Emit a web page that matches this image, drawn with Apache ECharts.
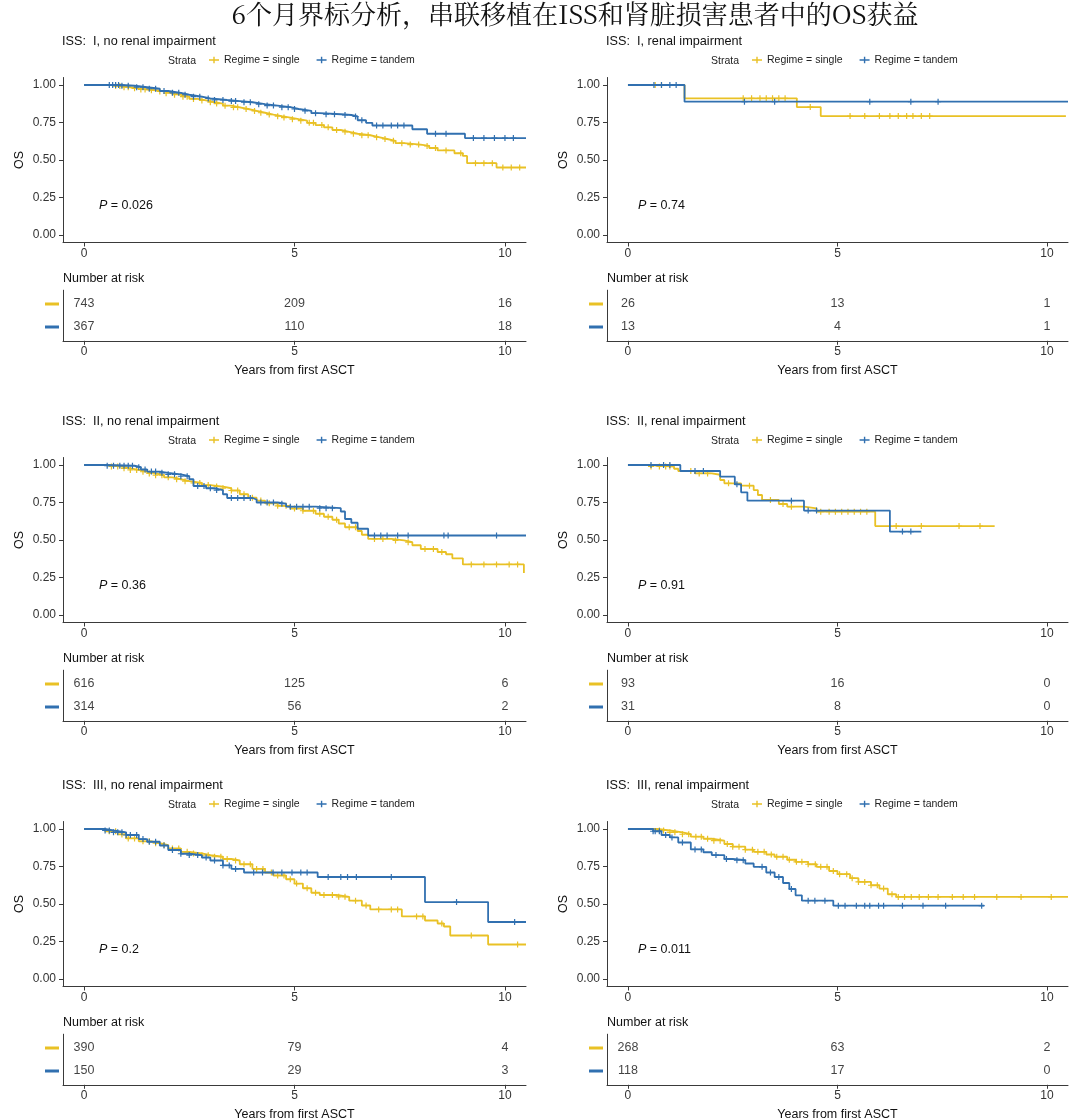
<!DOCTYPE html>
<html><head><meta charset="utf-8">
<script src="https://cdn.jsdelivr.net/npm/echarts@6/dist/echarts.min.js"></script>
<style>html,body{margin:0;padding:0;background:#fff}#c{width:1080px;height:1120px}</style>
</head><body><div id="c"></div>
<script>
// ---------- DATA ----------
const mainTitle = '6个月界标分析，串联移植在ISS和肾脏损害患者中的OS获益';
const panelTitles = [
  'ISS:  I, no renal impairment', 'ISS:  I, renal impairment',
  'ISS:  II, no renal impairment', 'ISS:  II, renal impairment',
  'ISS:  III, no renal impairment', 'ISS:  III, renal impairment'
];
const pValues = ['0.026', '0.74', '0.36', '0.91', '0.2', '0.011'];
const strataNames = ['Regime = single', 'Regime = tandem'];
const xTicks = [0, 5, 10];
const yTicks = [0, 0.25, 0.5, 0.75, 1];
const xTitle = 'Years from first ASCT';
const yTitle = 'OS';

// KM step curves [time, survival]
const km1_single = [[0,1],[0.7,0.993],[0.9,0.985],[1.1,0.978],[1.3,0.97],[1.5,0.965],[1.7,0.957],[1.9,0.945],[2.1,0.935],[2.3,0.922],[2.5,0.907],[2.7,0.897],[2.9,0.885],[3.1,0.876],[3.3,0.862],[3.5,0.851],[3.7,0.84],[3.9,0.827],[4.1,0.815],[4.3,0.803],[4.5,0.792],[4.7,0.783],[4.9,0.772],[5.1,0.762],[5.3,0.748],[5.5,0.733],[5.7,0.718],[5.9,0.7],[6.1,0.688],[6.3,0.675],[6.5,0.665],[6.8,0.652],[7.0,0.64],[7.2,0.628],[7.4,0.612],[7.6,0.603],[8.0,0.594],[8.2,0.58],[8.4,0.564],[8.8,0.545],[9.0,0.527],[9.1,0.479],[9.8,0.45],[10.5,0.45]];
const km1_tandem = [[0,1],[0.9,0.995],[1.2,0.985],[1.5,0.975],[1.8,0.96],[2.0,0.948],[2.3,0.935],[2.5,0.922],[2.8,0.91],[3.0,0.9],[3.4,0.893],[3.7,0.885],[4.0,0.872],[4.3,0.863],[4.6,0.852],[4.9,0.84],[5.1,0.828],[5.4,0.812],[5.6,0.805],[6.1,0.8],[6.35,0.79],[6.5,0.765],[6.7,0.748],[6.85,0.73],[7.8,0.705],[8.15,0.675],[9.05,0.646],[10.5,0.646]];
const km2_single = [[0,1],[1.35,0.911],[4.03,0.853],[4.6,0.793],[10.45,0.793]];
const km2_tandem = [[0,1],[1.35,0.889],[10.5,0.889]];
const km3_single = [[0,1],[0.6,0.99],[0.9,0.978],[1.1,0.967],[1.3,0.955],[1.5,0.944],[1.7,0.932],[1.9,0.918],[2.1,0.905],[2.3,0.892],[2.5,0.88],[2.8,0.866],[3.0,0.856],[3.3,0.845],[3.5,0.83],[3.7,0.805],[3.9,0.782],[4.1,0.763],[4.3,0.745],[4.6,0.728],[4.9,0.71],[5.2,0.695],[5.5,0.675],[5.7,0.655],[5.9,0.635],[6.05,0.61],[6.2,0.585],[6.5,0.56],[6.6,0.535],[6.75,0.507],[7.3,0.497],[7.6,0.485],[7.8,0.465],[8.0,0.44],[8.4,0.42],[8.6,0.405],[8.75,0.378],[9.0,0.337],[10.45,0.28]];
const km3_tandem = [[0,1],[0.5,0.995],[1.2,0.985],[1.35,0.97],[1.5,0.956],[1.8,0.948],[2.0,0.938],[2.3,0.925],[2.5,0.905],[2.6,0.86],[2.9,0.845],[3.1,0.833],[3.3,0.805],[3.4,0.78],[4.0,0.77],[4.1,0.75],[4.6,0.742],[4.8,0.722],[5.5,0.712],[6.1,0.69],[6.2,0.64],[6.35,0.615],[6.5,0.575],[6.75,0.53],[10.5,0.53]];
const km4_single = [[0,1],[0.5,0.99],[1.1,0.975],[1.2,0.96],[1.6,0.944],[2.0,0.935],[2.2,0.9],[2.3,0.878],[2.7,0.862],[3.0,0.833],[3.1,0.8],[3.2,0.767],[3.6,0.74],[3.8,0.722],[4.2,0.711],[4.5,0.689],[5.9,0.593],[8.75,0.593]];
const km4_tandem = [[0,1],[1.25,0.96],[2.2,0.922],[2.55,0.871],[2.7,0.818],[2.85,0.762],[4.2,0.696],[6.25,0.556],[7.0,0.556]];
const km5_single = [[0,1],[0.5,0.985],[0.8,0.964],[1.0,0.937],[1.3,0.918],[1.6,0.905],[1.8,0.893],[2.0,0.87],[2.3,0.848],[2.5,0.837],[2.8,0.825],[3.0,0.815],[3.3,0.8],[3.5,0.79],[3.7,0.765],[4.0,0.734],[4.3,0.71],[4.5,0.69],[4.8,0.665],[5.0,0.636],[5.2,0.605],[5.4,0.575],[5.6,0.56],[6.0,0.548],[6.3,0.522],[6.6,0.49],[6.8,0.464],[7.55,0.417],[8.1,0.39],[8.4,0.37],[8.55,0.35],[8.7,0.29],[9.6,0.23],[10.5,0.23]];
const km5_tandem = [[0,1],[0.5,0.99],[0.7,0.978],[1.0,0.96],[1.3,0.933],[1.5,0.915],[1.8,0.89],[2.0,0.86],[2.3,0.835],[2.5,0.826],[2.8,0.81],[3.0,0.79],[3.3,0.757],[3.5,0.734],[3.8,0.71],[5.55,0.68],[8.1,0.513],[9.6,0.38],[10.5,0.38]];
const km6_single = [[0,1],[0.7,0.99],[1.0,0.978],[1.3,0.965],[1.5,0.949],[1.8,0.935],[2.0,0.922],[2.3,0.9],[2.5,0.882],[2.8,0.862],[3.0,0.848],[3.3,0.83],[3.5,0.815],[3.8,0.795],[4.0,0.781],[4.3,0.765],[4.5,0.748],[4.8,0.72],[5.0,0.699],[5.3,0.672],[5.5,0.647],[5.8,0.625],[6.0,0.603],[6.2,0.565],[6.4,0.547],[10.5,0.547]];
const km6_tandem = [[0,1],[0.6,0.985],[0.8,0.96],[1.0,0.944],[1.2,0.91],[1.5,0.864],[1.8,0.845],[2.0,0.826],[2.3,0.8],[2.5,0.792],[2.8,0.77],[3.0,0.748],[3.3,0.71],[3.5,0.68],[3.7,0.64],[3.85,0.6],[4.0,0.558],[4.15,0.522],[4.9,0.489],[8.5,0.489]];

// censoring times
const cen1_single = [0.75,0.85,0.95,1.05,1.2,1.35,1.45,1.6,1.8,1.95,2.15,2.35,2.45,2.6,2.8,3.0,3.15,3.35,3.55,3.65,3.85,4.05,4.2,4.4,4.6,4.75,4.95,5.15,5.35,5.45,5.65,5.8,6.0,6.2,6.4,6.6,6.75,6.95,7.15,7.35,7.55,7.75,7.95,8.15,8.35,8.6,8.95,9.3,9.5,9.7,9.95,10.15,10.35];
const cen1_tandem = [0.6,0.68,0.75,0.82,0.9,1.05,1.25,1.4,1.55,1.7,1.9,2.1,2.25,2.4,2.6,2.75,2.95,3.1,3.3,3.5,3.6,3.8,3.95,4.15,4.35,4.5,4.7,4.85,5.0,5.25,5.5,5.75,5.95,6.2,6.45,6.6,6.95,7.1,7.3,7.45,7.6,8.35,8.6,9.25,9.5,9.75,10.0,10.2];
const cen2_single = [0.65,0.8,2.75,2.95,3.15,3.3,3.45,3.6,3.75,4.35,5.3,5.65,6.0,6.25,6.45,6.65,6.8,7.0,7.2];
const cen2_tandem = [0.62,0.8,1.0,1.15,2.78,3.5,5.77,6.75,7.4];
const cen3_single = [0.65,0.8,0.95,1.1,1.25,1.4,1.55,1.7,1.85,2.0,2.2,2.4,2.6,2.75,2.95,3.15,3.3,3.5,3.65,3.8,4.0,4.2,4.4,4.6,4.8,5.0,5.2,5.45,5.6,5.8,6.0,6.3,6.45,6.9,7.1,7.4,7.7,8.1,8.3,8.5,9.2,9.5,9.8,10.1,10.3];
const cen3_tandem = [0.55,0.7,0.85,0.95,1.05,1.15,1.3,1.45,1.6,1.7,1.85,2.0,2.15,2.3,2.45,2.7,2.85,3.0,3.15,3.5,3.65,3.8,3.95,4.2,4.35,4.5,4.7,4.9,5.05,5.2,5.35,5.6,5.75,5.9,6.9,7.05,7.2,7.45,7.7,8.55,8.65,9.8];
const cen4_single = [0.55,0.75,0.9,1.0,1.5,1.7,1.9,2.4,2.9,3.4,3.7,3.9,4.6,4.8,4.95,5.1,5.25,5.4,5.55,5.7,6.4,7.0,7.9,8.4];
const cen4_tandem = [0.55,0.85,1.0,1.6,1.8,2.6,3.9,4.3,4.5,6.55,6.75];
const cen5_single = [0.6,0.75,0.9,1.05,1.2,1.4,1.55,1.7,1.9,2.1,2.25,2.45,2.6,2.8,2.95,3.1,3.25,3.4,3.6,3.8,3.95,4.1,4.25,4.45,4.6,4.75,4.9,5.05,5.3,5.5,5.7,5.9,6.05,6.2,6.45,6.7,7.0,7.3,7.45,7.9,8.05,8.5,9.2,10.3];
const cen5_tandem = [0.5,0.6,0.7,0.8,0.9,1.0,1.1,1.25,1.4,1.55,1.7,1.9,2.1,2.3,2.5,2.7,2.9,3.1,3.3,3.45,3.6,4.03,4.24,4.49,4.7,4.94,5.15,5.3,5.8,6.1,6.26,6.47,7.3,8.85,10.23];
const cen6_single = [0.75,0.85,1.0,1.12,1.3,1.45,1.62,1.75,1.9,2.05,2.2,2.37,2.5,2.65,2.8,2.97,3.1,3.25,3.42,3.55,3.7,3.85,4.02,4.15,4.3,4.47,4.6,4.75,4.9,5.05,5.22,5.35,5.5,5.65,5.8,5.95,6.1,6.3,6.45,6.6,6.76,6.95,7.17,7.4,7.74,8.0,8.27,8.8,9.38,10.1];
const cen6_tandem = [0.6,0.65,0.75,0.9,1.05,1.3,1.6,1.75,2.1,2.35,2.6,2.75,3.2,3.4,3.6,3.9,4.3,4.46,4.7,5.02,5.18,5.45,5.65,5.77,5.98,6.1,6.55,7.04,7.58,8.44];

// number at risk at xTicks
const risk1_single = [743, 209, 16], risk1_tandem = [367, 110, 18];
const risk2_single = [26, 13, 1],    risk2_tandem = [13, 4, 1];
const risk3_single = [616, 125, 6],  risk3_tandem = [314, 56, 2];
const risk4_single = [93, 16, 0],    risk4_tandem = [31, 8, 0];
const risk5_single = [390, 79, 4],   risk5_tandem = [150, 29, 3];
const risk6_single = [268, 63, 2],   risk6_tandem = [118, 17, 0];

// ---------- BUILD ----------
const curves = [[km1_single,km1_tandem],[km2_single,km2_tandem],[km3_single,km3_tandem],[km4_single,km4_tandem],[km5_single,km5_tandem],[km6_single,km6_tandem]];
const censors = [[cen1_single,cen1_tandem],[cen2_single,cen2_tandem],[cen3_single,cen3_tandem],[cen4_single,cen4_tandem],[cen5_single,cen5_tandem],[cen6_single,cen6_tandem]];
const risks = [[risk1_single,risk1_tandem],[risk2_single,risk2_tandem],[risk3_single,risk3_tandem],[risk4_single,risk4_tandem],[risk5_single,risk5_tandem],[risk6_single,risk6_tandem]];

const COLORS = ['#E9C125', '#3170B0'];
const FF = '"Liberation Sans", Arial, Helvetica, sans-serif';
const AX = '#3a3a3a', LAB = '#333';
const COL_LEFT = [63, 607], COL_W = [463, 461], ROW_OFF = [0, 380, 744];
const LEG_LEFT = [209, 752], STRATA_X = [168, 711], P_X = [99, 638];
const PLUS = 'path://M2.4,0h1.2v6h-1.2z M0,2.4h6v1.2h-6z';
const LEG_ICON = 'path://M0,3h10v1.4h-10z M4.3,0.5h1.4v6.4h-1.4z';

function survAt(curve, t) {
  let s = curve[0][1];
  for (const p of curve) { if (p[0] <= t) s = p[1]; else break; }
  return s;
}

const grid = [], xAxis = [], yAxis = [], series = [], legend = [], graphic = [];
graphic.push({type:'text', style:{text: mainTitle, x: 575, y: 14, align:'center', verticalAlign:'middle',
  font: '26px "Noto Serif CJK SC", "Noto Sans CJK SC", serif', fill:'#111'}});

for (let i = 0; i < 6; i++) {
  const col = i % 2, row = Math.floor(i / 2), off = ROW_OFF[row];
  grid.push({left: COL_LEFT[col], top: 77.5 + off, width: COL_W[col], height: 165, outerBoundsMode: 'none'});
  grid.push({left: COL_LEFT[col], top: 290.2 + off, width: COL_W[col], height: 50.6, outerBoundsMode: 'none'});
  const xBase = {type:'value', min:-0.5, max:10.5,
    axisLine:{show:true, onZero:false, lineStyle:{color:AX, width:1}},
    axisTick:{show:true, customValues:xTicks, length:4, lineStyle:{color:AX}},
    axisLabel:{show:true, customValues:xTicks, margin:5, color:LAB, fontSize:12, fontFamily:FF},
    splitLine:{show:false}};
  xAxis.push(Object.assign({gridIndex: 2*i}, xBase));
  xAxis.push(Object.assign({gridIndex: 2*i+1, name: xTitle, nameLocation:'middle', nameGap:23,
    nameTextStyle:{fontSize:12.5, color:'#111', fontFamily:FF}}, xBase));
  yAxis.push({gridIndex: 2*i, type:'value', min:-0.05, max:1.05,
    axisLine:{show:true, onZero:false, lineStyle:{color:AX, width:1}},
    axisTick:{show:true, customValues:yTicks, length:4, lineStyle:{color:AX}},
    axisLabel:{show:true, customValues:yTicks, margin:7, color:LAB, fontSize:12, fontFamily:FF, formatter: v => Number(v).toFixed(2)},
    splitLine:{show:false},
    name: yTitle, nameLocation:'middle', nameGap:37, nameTextStyle:{fontSize:12.5, color:'#111', fontFamily:FF}});
  yAxis.push({gridIndex: 2*i+1, type:'value', min:0.4, max:2.6, inverse:true,
    axisLine:{show:true, onZero:false, lineStyle:{color:AX, width:1}},
    axisTick:{show:false},
    axisLabel:{show:true, customValues:[1,2], margin:4,
      formatter: v => (Math.round(v) === 1 ? '{a|}' : '{b|}'),
      rich:{a:{width:14, height:3, backgroundColor:COLORS[0]}, b:{width:14, height:3, backgroundColor:COLORS[1]}}},
    splitLine:{show:false}});

  for (let s = 0; s < 2; s++) {
    const curve = curves[i][s];
    series.push({type:'line', name: strataNames[s], xAxisIndex:2*i, yAxisIndex:2*i, data: curve,
      step:'end', showSymbol:false, symbol:'none', animation:false, silent:true, z: 2 + 2*s,
      lineStyle:{color: COLORS[s], width:1.8}, itemStyle:{color: COLORS[s]}});
    series.push({type:'scatter', name: strataNames[s], xAxisIndex:2*i, yAxisIndex:2*i,
      data: censors[i][s].map(t => [t, survAt(curve, t)]),
      symbol: PLUS, symbolSize: 6, animation:false, silent:true, z: 3 + 2*s,
      itemStyle:{color: COLORS[s], opacity:1}});
    series.push({type:'scatter', xAxisIndex:2*i+1, yAxisIndex:2*i+1,
      data: xTicks.map((x, k) => [x, s + 1, risks[i][s][k]]),
      symbolSize: 0, animation:false, silent:true,
      label:{show:true, position:'inside', formatter: p => String(p.value[2]), color:'#111', fontSize:12.5, fontFamily:FF}});
  }

  legend.push({left: LEG_LEFT[col], top: 54.5 + off, orient:'horizontal', selectedMode:false,
    itemWidth:10, itemHeight:7, itemGap:17, padding:0,
    textStyle:{fontSize:10.5, color:'#222', fontFamily:FF},
    data: strataNames.map((n, s) => ({name:n, icon: LEG_ICON, itemStyle:{color: COLORS[s]}}))});

  graphic.push({type:'text', style:{text: panelTitles[i], x: COL_LEFT[col] - 1, y: 41 + off, verticalAlign:'middle',
    font: '12.7px ' + FF, fill:'#111'}});
  graphic.push({type:'text', style:{text: 'Strata', x: STRATA_X[col], y: 61 + off, verticalAlign:'middle',
    font: '10.5px ' + FF, fill:'#222'}});
  graphic.push({type:'text', style:{text: '{i|P} = ' + pValues[i], x: P_X[col], y: 205.5 + off, verticalAlign:'middle',
    font: '12.5px ' + FF, fill:'#111', rich:{i:{fontStyle:'italic', fontSize:12.5, fontFamily:FF, fill:'#111'}}}});
  graphic.push({type:'text', style:{text: 'Number at risk', x: COL_LEFT[col], y: 279 + off, verticalAlign:'middle',
    font: '12.5px ' + FF, fill:'#111'}});
}

const chart = echarts.init(document.getElementById('c'), null, {renderer:'canvas'});
chart.setOption({backgroundColor:'#fff', animation:false, grid, xAxis, yAxis, series, legend, graphic});
</script></body></html>
